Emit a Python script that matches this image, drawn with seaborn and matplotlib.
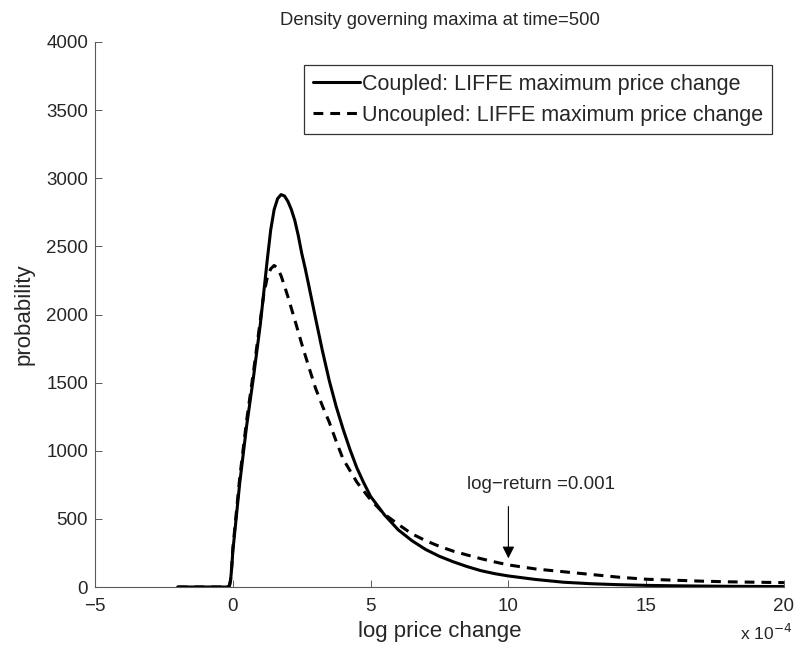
import matplotlib
matplotlib.use("Agg")
import matplotlib.pyplot as plt
import seaborn as sns
import pandas as pd

# ---- data (x in units of 1e-4) ----
coupled_x = [-2, -1, -0.2, -0.12, -0.08, -0.04, 0, 0.25, 0.5, 0.75, 1.0, 1.25, 1.375, 1.5, 1.625,
             1.75, 1.875, 2.0, 2.125, 2.25, 2.375, 2.5, 2.625, 2.75, 3.0, 3.25, 3.5, 3.75, 4.0,
             4.25, 4.5, 4.75, 5.0, 5.5, 6.0, 6.5, 7.0, 7.5, 8.0, 8.5, 9.0, 9.5, 10, 11, 12,
             13, 14, 15, 16, 17, 18, 19, 20]
coupled_y = [0, 0, 0, 10, 50, 140, 260, 760, 1180, 1540, 1930, 2400, 2620, 2770, 2850,
             2880, 2870, 2830, 2770, 2690, 2580, 2450, 2340, 2220, 1975, 1735, 1515, 1325, 1160,
             1010, 875, 765, 665, 530, 420, 340, 275, 225, 185, 150, 120, 98, 81, 55, 35,
             24, 17, 12, 9, 7, 5, 4, 3]

uncoupled_x = [-2, -1, -0.2, -0.12, -0.08, -0.04, 0, 0.25, 0.5, 0.75, 1.0, 1.125, 1.25, 1.375,
               1.5, 1.625, 1.75, 1.875, 2.0, 2.25, 2.5, 2.75, 3.0, 3.25, 3.5, 3.75, 4.0, 4.5,
               5.0, 5.5, 6.0, 6.5, 7.0, 7.5, 8.0, 8.5, 9.0, 9.5, 10, 11, 12, 13, 14, 15, 16,
               17, 18, 19, 20]
uncoupled_y = [0, 0, 0, 10, 55, 150, 280, 800, 1220, 1580, 1960, 2150, 2270, 2335,
               2360, 2340, 2285, 2210, 2130, 1960, 1785, 1620, 1460, 1330, 1210, 1070, 940, 770,
               640, 535, 460, 390, 340, 298, 263, 235, 208, 184, 162, 132, 112, 92, 72, 57, 50,
               43, 38, 35, 32]

labels = ["Coupled: LIFFE maximum price change", "Uncoupled: LIFFE maximum price change"]
x_ticks = [-5, 0, 5, 10, 15, 20]
y_ticks = [0, 500, 1000, 1500, 2000, 2500, 3000, 3500, 4000]
title = "Density governing maxima at time=500"
annot_text = "log\u2212return =0.001"
annot_x = 10
annot_tip_y = 210
annot_tail_y = 590

sns.set_theme(style="white")
plt.rcParams['font.family'] = ['Liberation Sans', 'DejaVu Sans']

fig = plt.figure(figsize=(7.95, 6.47), dpi=100)
ax = fig.add_axes([95/795, 1-587/647, 689/795, 545/647])

df_c = pd.DataFrame({"x": coupled_x, "y": coupled_y})
df_u = pd.DataFrame({"x": uncoupled_x, "y": uncoupled_y})
sns.lineplot(data=df_c, x="x", y="y", ax=ax, color="black", lw=2.2, label=labels[0])
sns.lineplot(data=df_u, x="x", y="y", ax=ax, color="black", lw=2.2, label=labels[1])
ax.lines[1].set_dashes((3.2, 2.3))

ax.set_xlim(-5, 20)
ax.set_ylim(0, 4000)
ax.set_xticks(x_ticks)
ax.set_yticks(y_ticks)
ax.tick_params(axis='both', direction='in', length=5, width=0.7, color='0.35',
               labelsize=13.5, bottom=True, left=True)
ax.tick_params(axis='x', pad=8)
ax.tick_params(axis='y', pad=5)
for s in ['top', 'right']:
    ax.spines[s].set_visible(False)
for s in ['left', 'bottom']:
    ax.spines[s].set_color('0.35')
    ax.spines[s].set_linewidth(0.8)

ax.set_xlabel("log price change", fontsize=16, labelpad=4)
ax.set_ylabel("probability", fontsize=16, labelpad=8)
ax.set_title(title, fontsize=13.3, pad=12)

fig.text(740/795, 1-633/647, "x 10$^{-4}$", fontsize=12.5, ha='left', va='center')

ax.annotate("", xy=(annot_x, annot_tip_y), xytext=(annot_x, annot_tail_y),
            arrowprops=dict(arrowstyle="-|>", color="black", lw=0.8,
                            mutation_scale=18, shrinkA=0, shrinkB=0))
ax.text(11.2, 750, annot_text, fontsize=13.5, ha='center', va='center')

leg = ax.legend(loc='upper right', bbox_to_anchor=(0.9826, 0.958), borderaxespad=0,
                fontsize=15.5, frameon=True, fancybox=False, edgecolor='black',
                handlelength=2.2, handletextpad=0.1, labelspacing=0.48, borderpad=0.4)
leg.get_frame().set_linewidth(0.9)

fig.savefig("out.png", dpi=100)
